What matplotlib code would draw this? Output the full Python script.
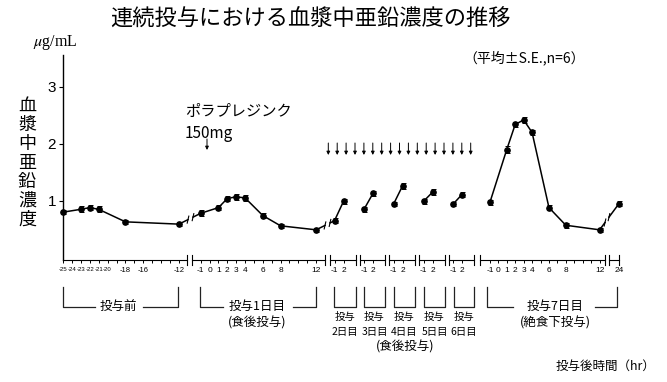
import numpy as np
import matplotlib
matplotlib.use("Agg")
import matplotlib.pyplot as plt

plt.rcParams["font.family"] = ["Noto Sans CJK JP", "DejaVu Sans"]
plt.rcParams["mathtext.fontset"] = "stix"

# plasma zinc (ug/mL, mean and S.E.) against hours after dosing
pre_hr = [-25, -23, -22, -21, -18, -12]
pre_zn = [0.80, 0.85, 0.88, 0.85, 0.63, 0.59]
pre_se = [0.04, 0.05, 0.05, 0.05, 0.04, 0.04]

day1_hr = [-1, 1, 2, 3, 4, 6, 8, 12]
day1_zn = [0.78, 0.88, 1.04, 1.07, 1.05, 0.74, 0.56, 0.49]
day1_se = [0.05, 0.04, 0.05, 0.05, 0.05, 0.04, 0.04, 0.04]

mid_hr = [-1, 2]
day2_zn = [0.65, 0.99]
day3_zn = [0.85, 1.13]
day4_zn = [0.94, 1.26]
day5_zn = [0.99, 1.15]
day6_zn = [0.94, 1.11]
mid_se = [0.04, 0.05]

day7_hr = [-1, 1, 2, 3, 4, 6, 8, 12]
day7_zn = [0.97, 1.90, 2.34, 2.42, 2.20, 0.88, 0.57, 0.49]
day7_se = [0.04, 0.06, 0.05, 0.05, 0.05, 0.04, 0.04, 0.04]

day8_hr = [24]
day8_zn = [0.95]
day8_se = [0.05]

pre_labels = ["-25", "-24", "-23", "-22", "-21", "-20", "-18", "-16", "-12"]
day_labels = ["-1", "0", "1", "2", "3", "4", "6", "8", "12"]
mid_labels = ["-1", "2"]
day_names = ["2日目", "3日目", "4日目", "5日目", "6日目"]

# ---- layout (pixels) ----
W, H = 667, 382
Y_TOP, Y_BOT = 55, 260
YLIM = (-0.04, 3.56)

fig = plt.figure(figsize=(W / 100, H / 100), dpi=100)
ov = fig.add_axes([0, 0, 1, 1])
ov.set_xlim(0, W)
ov.set_ylim(H, 0)
ov.axis("off")


def segment(x0, x1, xlim, ticks, labels, caps=(0, 1), size=6):
    ax = fig.add_axes([x0 / W, 1 - Y_BOT / H, (x1 - x0) / W, (Y_BOT - Y_TOP) / H])
    ax.patch.set_alpha(0)
    ax.set_xlim(*xlim)
    ax.set_ylim(*YLIM)
    for s in ("top", "right", "left"):
        ax.spines[s].set_visible(False)
    ax.spines["bottom"].set_linewidth(0.8)
    ax.set_yticks([])
    ax.set_xticks(ticks)
    ax.set_xticklabels([labels.get(t, "") for t in ticks],
                       fontfamily="Liberation Sans", fontsize=size)
    ax.tick_params(axis="x", direction="out", length=2.5, width=0.7, pad=2.5)
    for xe in caps:
        ax.plot([xe, xe], [-0.022, 0.022], transform=ax.transAxes,
                color="k", lw=0.8, clip_on=False)
    return ax


def draw(ax, hr, zn, se):
    c = ax.errorbar(hr, zn, yerr=se, fmt="-o", color="k", ms=3.8, lw=1.1,
                    elinewidth=0.7, capsize=1.8, capthick=0.7)
    for a in c.get_children():
        a.set_clip_on(False)


pre_ticks = list(range(-25, -11))
ax_pre = segment(63, 187, (-25, -11.1), pre_ticks,
                 {int(s): s for s in pre_labels}, caps=(1,), size=4.3)
for lbl in ax_pre.get_xticklabels():
    if lbl.get_text() in ("-18", "-16", "-12"):
        lbl.set_fontsize(5.5)
ax_pre.spines["left"].set_visible(True)
ax_pre.spines["left"].set_linewidth(1.0)
ax_pre.set_yticks([1, 2, 3])
ax_pre.set_yticklabels(["1", "2", "3"], fontfamily="Liberation Sans", fontsize=11)
ax_pre.tick_params(axis="y", direction="out", length=3, width=0.8, pad=2)
draw(ax_pre, pre_hr, pre_zn, pre_se)

hour_ticks = list(range(-1, 13))
day_map = {int(s): s for s in day_labels}
ax_d1 = segment(192, 325, (-1.98, 13.0), hour_ticks, day_map)
draw(ax_d1, day1_hr, day1_zn, day1_se)

mid_axes = []
for x0, zn in zip([330, 359.5, 389, 419, 448.5],
                  [day2_zn, day3_zn, day4_zn, day5_zn, day6_zn]):
    ax = segment(x0, x0 + 25.5, (-2.5, 6.0), [-1, 2], {int(s): s for s in mid_labels})
    draw(ax, mid_hr, zn, mid_se)
    mid_axes.append(ax)

ax_d7 = segment(480, 605, (-2.17, 12.64), hour_ticks, day_map)
draw(ax_d7, day7_hr, day7_zn, day7_se)

ax_d8 = segment(608.5, 619, (22.75, 24.0), [24], {24: "24"})
draw(ax_d8, day8_hr, day8_zn, day8_se)


# broken connecting lines between segments
def to_ov(ax, x, y):
    return ov.transData.inverted().transform(ax.transData.transform((x, y)))


def bridge(axA, pA, axB, pB, xa, xb):
    x1, y1 = to_ov(axA, *pA)
    x2, y2 = to_ov(axB, *pB)
    ya = y1 + (y2 - y1) * (xa - x1) / (x2 - x1)
    yb = y1 + (y2 - y1) * (xb - x1) / (x2 - x1)
    ov.plot([x1, xa], [y1, ya], color="k", lw=1.1)
    ov.plot([xb, x2], [yb, y2], color="k", lw=1.1)
    for xx, yy in ((xa, ya), (xb, yb)):
        ov.plot([xx - 0.8, xx + 0.8], [yy + 3.5, yy - 3.5], color="k", lw=0.8)


bridge(ax_pre, (pre_hr[-1], pre_zn[-1]), ax_d1, (day1_hr[0], day1_zn[0]), 188, 193)
bridge(ax_d1, (day1_hr[-1], day1_zn[-1]), mid_axes[0], (mid_hr[0], day2_zn[0]), 325, 330)
bridge(ax_d7, (day7_hr[-1], day7_zn[-1]), ax_d8, (day8_hr[0], day8_zn[0]), 605, 609)

# dose arrows
ov.annotate("", xy=(207, 150), xytext=(207, 139),
            arrowprops=dict(arrowstyle="-|>", lw=0.7, color="k",
                            mutation_scale=5, shrinkA=0, shrinkB=0))
for x in np.linspace(328.3, 470.7, 17):
    ov.annotate("", xy=(x, 155), xytext=(x, 143),
                arrowprops=dict(arrowstyle="-|>", lw=0.7, color="k",
                                mutation_scale=5, shrinkA=0, shrinkB=0))

ov.text(185, 111, "ポラプレジンク", fontsize=11, ha="left", va="center")
ov.text(185, 133, "150mg", fontsize=11, ha="left", va="center")

# titles and axis texts
ov.text(310, 19, "連続投与における血漿中亜鉛濃度の推移", fontsize=16,
        ha="center", va="center")
ov.text(524, 58, "（平均±S.E.,n=6）", fontsize=10, ha="center", va="center")
ov.text(55, 42, r"$\mu$g/mL", fontsize=11.5, fontfamily="Liberation Serif",
        ha="center", va="center")
for ch, y in zip("血漿中亜鉛濃度", np.linspace(106, 220, 7)):
    ov.text(27, y, ch, fontsize=13, ha="center", va="center")
ov.text(655, 366, "投与後時間（hr）", fontsize=9, ha="right", va="center")

# group brackets
BR_TOP, BR_BOT = 287, 307
lk = dict(color="#222222", lw=0.9)
for x0, x1, g0, g1, tx, lines in [
        (62.7, 178.3, 95, 143, 118.3, ["投与前"]),
        (200, 315.7, 223, 292.7, 257.5, ["投与1日目", "(食後投与)"]),
        (487.3, 616.7, 513, 595, 555, ["投与7日目", "(絶食下投与)"])]:
    ov.plot([x0, x0, g0], [BR_TOP, BR_BOT, BR_BOT], **lk)
    ov.plot([g1, x1, x1], [BR_BOT, BR_BOT, BR_TOP], **lk)
    for i, s in enumerate(lines):
        ov.text(tx, 306 + 16.5 * i, s, fontsize=9, ha="center", va="center")

for (x0, x1), name in zip([(334, 355.5), (364, 385), (394, 415), (424, 445), (453.5, 474)],
                          day_names):
    ov.plot([x0, x0, x1, x1], [BR_TOP, BR_BOT, BR_BOT, BR_TOP], **lk)
    ov.text((x0 + x1) / 2, 317, "投与", fontsize=7.5, ha="center", va="center")
    ov.text((x0 + x1) / 2, 332, name, fontsize=7.5, ha="center", va="center")
ov.text(405, 347, "(食後投与)", fontsize=9, ha="center", va="center")

fig.savefig("out.png", dpi=100)
